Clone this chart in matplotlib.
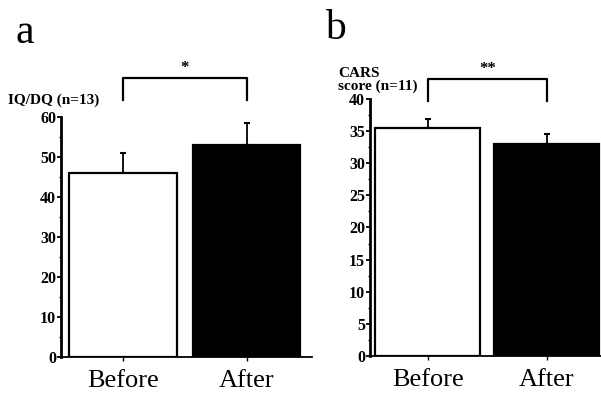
import matplotlib
matplotlib.use("Agg")
import matplotlib.pyplot as plt
from matplotlib.ticker import MultipleLocator

plt.rcParams["font.family"] = "Liberation Serif"

categories = ["Before", "After"]

iq_values = [46.0, 53.2]
iq_errors = [5.1, 5.4]

cars_values = [35.5, 33.0]
cars_errors = [1.3, 1.6]

bar_colors = ["white", "black"]


def draw_panel(ax, values, errors, ylim, major, minor, width, xlim):
    x = range(len(values))
    ax.bar(x, values, width=width, color=bar_colors, edgecolor="black",
           linewidth=1.6, zorder=2)
    ax.errorbar(x, values, yerr=[[0] * len(errors), errors], fmt="none",
                ecolor="black", elinewidth=1.3, capsize=2.5, capthick=1.5,
                zorder=1)
    ax.set_ylim(*ylim)
    ax.set_xlim(*xlim)
    ax.yaxis.set_major_locator(MultipleLocator(major))
    ax.yaxis.set_minor_locator(MultipleLocator(minor))
    ax.set_xticks(list(x))
    ax.set_xticklabels(categories, fontsize=19)
    for lab in ax.get_yticklabels():
        lab.set_fontweight("bold")
        lab.set_fontsize(11.5)
    ax.tick_params(axis="y", which="major", length=3, width=1.3, pad=0.5)
    ax.tick_params(axis="y", which="minor", length=1.5, width=1)
    ax.tick_params(axis="x", length=3, width=1, pad=6)
    for side in ["top", "right"]:
        ax.spines[side].set_visible(False)
    ax.spines["left"].set_linewidth(2)
    ax.spines["bottom"].set_linewidth(1.3)
    ax.patch.set_alpha(0)


def bracket(ax, y_low, y_top, label, y_text):
    ax.plot([0, 0, 1, 1], [y_low, y_top, y_top, y_low], color="black",
            linewidth=1.6, clip_on=False)
    ax.text(0.5, y_text, label, ha="center", va="center", fontsize=12,
            fontweight="bold", clip_on=False)


fig = plt.figure(figsize=(6.01, 3.98), dpi=100)

ax_a = fig.add_axes([0.1015, 0.103, 0.418, 0.602])
draw_panel(ax_a, iq_values, iq_errors, (0, 60), 10, 5, 0.87, (-0.5, 1.53))
bracket(ax_a, 64.3, 69.8, "*", 72.3)

ax_b = fig.add_axes([0.6156, 0.1055, 0.3844, 0.646])
draw_panel(ax_b, cars_values, cars_errors, (0, 40), 5, 2.5, 0.88,
           (-0.485, 1.456))
bracket(ax_b, 39.6, 43.1, "**", 44.6)

fig.text(0.013, 0.749, "IQ/DQ (n=13)", fontsize=11, fontweight="bold",
         va="center", ha="left")
fig.text(0.562, 0.816, "CARS", fontsize=11, fontweight="bold",
         va="center", ha="left")
fig.text(0.562, 0.784, "score (n=11)", fontsize=11, fontweight="bold",
         va="center", ha="left")

fig.text(0.025, 0.965, "a", fontsize=30, va="top", ha="left")
fig.text(0.54, 0.975, "b", fontsize=30, va="top", ha="left")

fig.savefig("out.png", dpi=100)
